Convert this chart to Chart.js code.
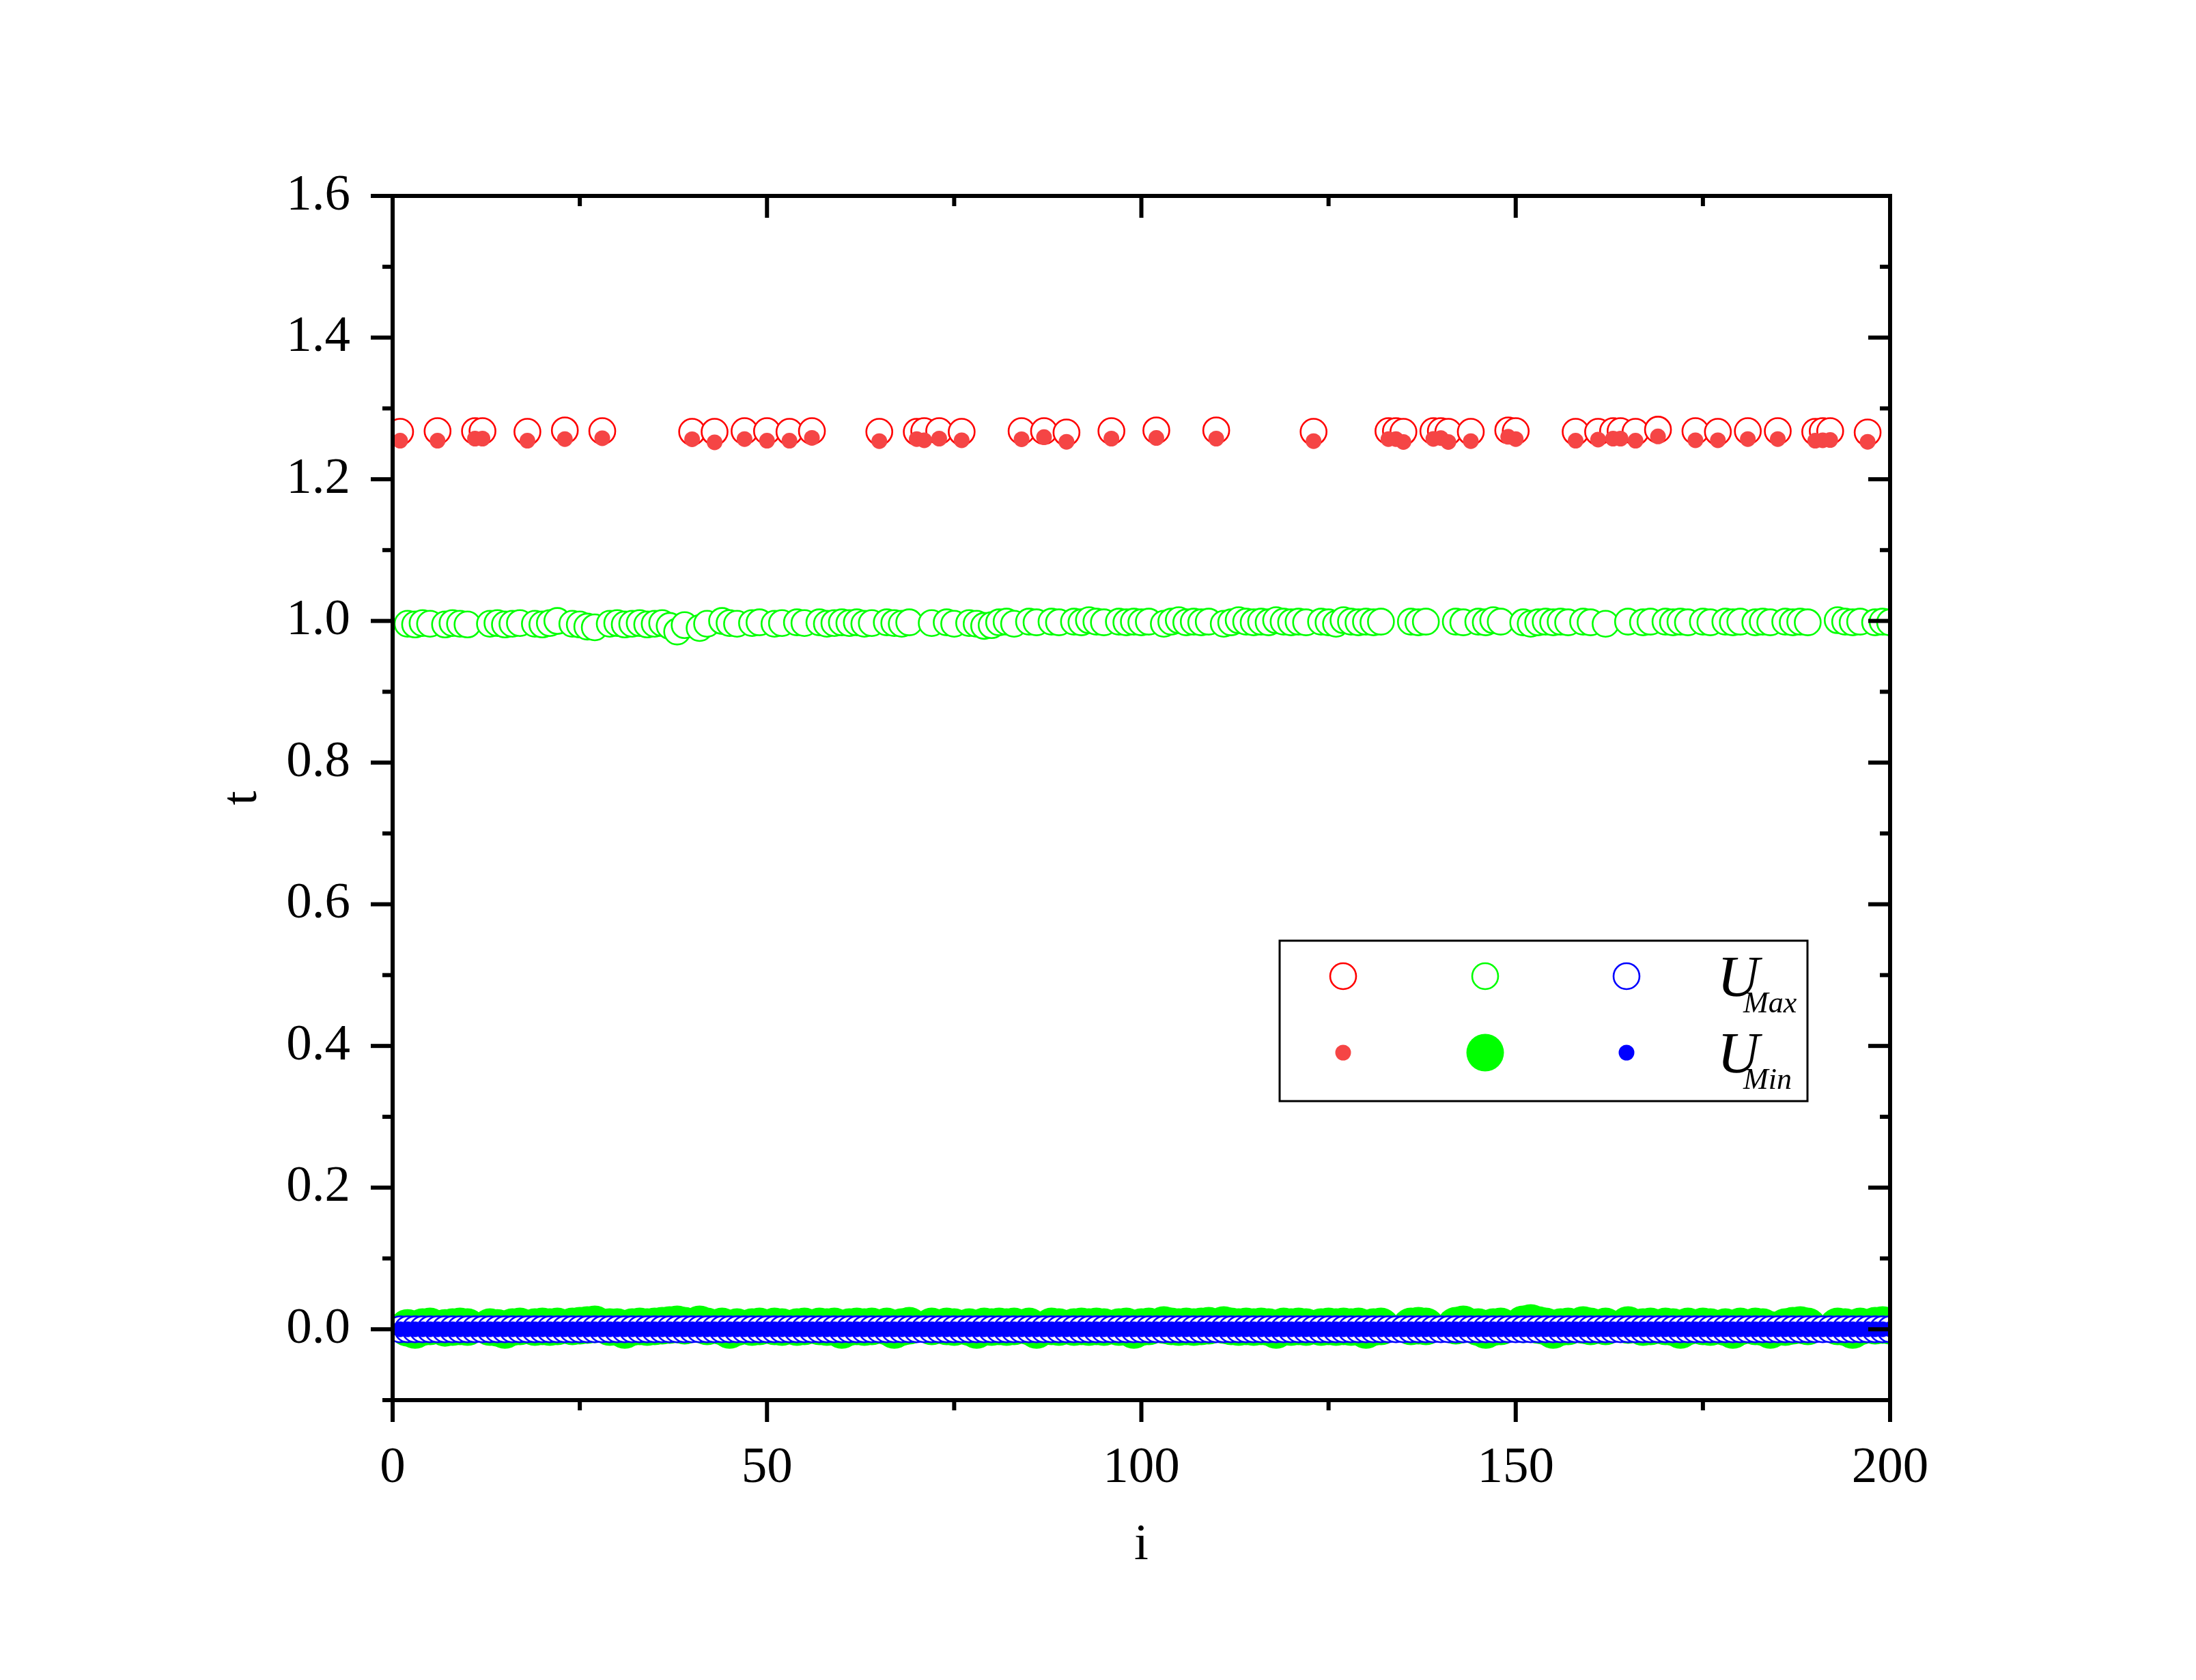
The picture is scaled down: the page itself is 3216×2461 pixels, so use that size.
<!DOCTYPE html>
<html>
<head>
<meta charset="utf-8">
<script src="https://cdn.jsdelivr.net/npm/chart.js@4.4.1/dist/chart.umd.min.js"></script>
<style>
  html, body { margin: 0; padding: 0; background: #fff; }
  canvas { display: block; }
</style>
</head>
<body>
<canvas id="chart" width="3216" height="2461"></canvas>
<script>
// indices where the red class sits
const redI = [1, 6, 11, 12, 18, 23, 28, 40, 43, 47, 50, 53, 56, 65, 70, 71, 73, 76, 84, 87,
  90, 96, 102, 110, 123, 133, 134, 135, 139, 140, 141, 144, 149, 150, 158, 161, 163, 164, 166, 169,
  174, 177, 181, 185, 190, 191, 192, 197];
const redMax = [1.267, 1.268, 1.268, 1.268, 1.267, 1.269, 1.268, 1.267, 1.267, 1.268, 1.268, 1.267, 1.268, 1.267, 1.267, 1.268, 1.268, 1.267, 1.268, 1.268,
  1.266, 1.268, 1.269, 1.269, 1.267, 1.268, 1.268, 1.267, 1.268, 1.268, 1.267, 1.267, 1.269, 1.268, 1.267, 1.267, 1.268, 1.268, 1.267, 1.270,
  1.268, 1.267, 1.268, 1.268, 1.267, 1.268, 1.268, 1.266];
const redMin = [1.2545, 1.2545, 1.2574, 1.2574, 1.2545, 1.2567, 1.2579, 1.2565, 1.2522, 1.2567, 1.2545, 1.2545, 1.2584, 1.2539, 1.2567, 1.2551, 1.2574, 1.2551, 1.2565, 1.2595,
  1.2529, 1.2574, 1.2583, 1.2574, 1.2539, 1.2567, 1.2567, 1.2526, 1.2570, 1.2582, 1.2526, 1.2539, 1.2600, 1.2567, 1.2545, 1.2560, 1.2574, 1.2574, 1.2545, 1.2605,
  1.2551, 1.2551, 1.2567, 1.2567, 1.2545, 1.2551, 1.2554, 1.2529];

// i = 1..200, null where the point belongs to the red class
const greenMax = [
  null, 0.996, 0.995, 0.997, 0.996, null, 0.995, 0.997, 0.996, 0.995,
  null, null, 0.996, 0.997, 0.995, 0.996, 0.997, null, 0.996, 0.995,
  0.997, 1.000, null, 0.996, 0.995, 0.992, 0.991, null, 0.996, 0.997,
  0.995, 0.996, 0.997, 0.995, 0.996, 0.997, 0.993, 0.985, 0.994, null,
  0.990, 0.996, null, 1.000, 0.997, 0.996, null, 0.997, 0.998, null,
  0.996, 0.997, null, 0.998, 0.997, null, 0.998, 0.996, 0.997, 0.998,
  0.997, 0.998, 0.996, 0.997, null, 0.998, 0.997, 0.996, 0.998, null,
  null, 0.997, null, 0.998, 0.996, null, 0.997, 0.996, 0.993, 0.994,
  0.998, 0.999, 0.996, null, 0.999, 0.998, null, 0.999, 0.998, null,
  0.999, 0.998, 1.001, 0.999, 0.998, null, 0.999, 0.998, 0.999, 0.998,
  0.999, null, 0.996, 0.999, 1.001, 0.998, 0.999, 0.998, 0.999, null,
  0.996, 0.998, 1.001, 0.999, 0.998, 0.999, 0.998, 1.001, 0.999, 0.998,
  0.999, 0.998, null, 0.999, 0.998, 0.996, 1.001, 0.999, 0.998, 0.999,
  0.998, 0.999, null, null, null, 0.999, 0.998, 0.999, null, null,
  null, 0.999, 0.998, null, 0.999, 0.998, 1.001, 0.999, null, null,
  0.998, 0.996, 0.998, 0.999, 0.998, 0.999, 0.998, null, 0.999, 0.998,
  null, 0.996, null, null, 0.999, null, 0.998, 0.999, null, 0.999,
  0.998, 0.999, 0.998, null, 0.999, 0.998, null, 0.999, 0.998, 0.999,
  null, 0.998, 0.999, 0.998, null, 0.999, 0.998, 0.999, 0.998, null,
  null, null, 1.001, 0.999, 0.998, 0.999, null, 0.998, 0.999, 0.998
];
const greenMin = [
  null, 0.002, -0.001, 0.003, 0.004, null, 0.002, 0.003, 0.004, 0.003,
  null, null, 0.003, 0.002, -0.001, 0.003, 0.004, null, 0.003, 0.004,
  0.003, 0.004, null, 0.004, 0.005, 0.006, 0.007, null, 0.003, 0.003,
  -0.001, 0.003, 0.004, 0.003, 0.004, 0.005, 0.006, 0.007, 0.005, null,
  0.007, 0.004, null, 0.004, -0.001, 0.003, null, 0.003, 0.004, null,
  0.004, 0.003, null, 0.003, 0.004, null, 0.004, 0.003, 0.004, -0.001,
  0.003, 0.004, 0.003, 0.004, null, 0.004, -0.001, 0.003, 0.005, null,
  null, 0.004, null, 0.004, 0.003, null, 0.003, -0.001, 0.004, 0.003,
  0.004, 0.003, 0.004, null, 0.004, -0.001, null, 0.004, 0.003, null,
  0.003, 0.004, 0.003, 0.004, 0.003, null, 0.003, 0.004, -0.001, 0.003,
  0.004, null, 0.006, 0.004, 0.003, 0.004, 0.003, 0.004, 0.005, null,
  0.006, 0.004, 0.003, 0.004, 0.003, 0.004, 0.003, -0.001, 0.004, 0.003,
  0.004, 0.003, null, 0.003, 0.004, 0.003, 0.004, 0.003, 0.004, -0.001,
  0.003, 0.004, null, null, null, 0.004, 0.005, 0.004, null, null,
  null, 0.005, 0.007, null, 0.003, -0.001, 0.003, 0.004, null, null,
  0.007, 0.009, 0.006, 0.004, -0.001, 0.003, 0.004, null, 0.006, 0.004,
  null, 0.004, null, null, 0.006, null, 0.003, 0.004, null, 0.004,
  0.003, -0.001, 0.004, null, 0.004, 0.003, null, 0.003, -0.001, 0.004,
  null, 0.004, 0.003, -0.001, null, 0.003, 0.005, 0.006, 0.004, null,
  null, null, 0.004, 0.003, -0.001, 0.004, null, 0.005, 0.006, 0.005
];
const blueMax = [
  0, 0, 0, 0, 0, 0, 0, 0, 0, 0, 0, 0, 0, 0, 0, 0, 0, 0, 0, 0,
  0, 0, 0, 0, 0, 0, 0, 0, 0, 0, 0, 0, 0, 0, 0, 0, 0, 0, 0, 0,
  0, 0, 0, 0, 0, 0, 0, 0, 0, 0, 0, 0, 0, 0, 0, 0, 0, 0, 0, 0,
  0, 0, 0, 0, 0, 0, 0, 0, 0, 0, 0, 0, 0, 0, 0, 0, 0, 0, 0, 0,
  0, 0, 0, 0, 0, 0, 0, 0, 0, 0, 0, 0, 0, 0, 0, 0, 0, 0, 0, 0,
  0, 0, 0, 0, 0, 0, 0, 0, 0, 0, 0, 0, 0, 0, 0, 0, 0, 0, 0, 0,
  0, 0, 0, 0, 0, 0, 0, 0, 0, 0, 0, 0, 0, 0, 0, 0, 0, 0, 0, 0,
  0, 0, 0, 0, 0, 0, 0, 0, 0, 0, 0, 0, 0, 0, 0, 0, 0, 0, 0, 0,
  0, 0, 0, 0, 0, 0, 0, 0, 0, 0, 0, 0, 0, 0, 0, 0, 0, 0, 0, 0,
  0, 0, 0, 0, 0, 0, 0, 0, 0, 0, 0, 0, 0, 0, 0, 0, 0, 0, 0, 0
];
const blueMin = [
  0, 0, 0, 0, 0, 0, 0, 0, 0, 0, 0, 0, 0, 0, 0, 0, 0, 0, 0, 0,
  0, 0, 0, 0, 0, 0, 0, 0, 0, 0, 0, 0, 0, 0, 0, 0, 0, 0, 0, 0,
  0, 0, 0, 0, 0, 0, 0, 0, 0, 0, 0, 0, 0, 0, 0, 0, 0, 0, 0, 0,
  0, 0, 0, 0, 0, 0, 0, 0, 0, 0, 0, 0, 0, 0, 0, 0, 0, 0, 0, 0,
  0, 0, 0, 0, 0, 0, 0, 0, 0, 0, 0, 0, 0, 0, 0, 0, 0, 0, 0, 0,
  0, 0, 0, 0, 0, 0, 0, 0, 0, 0, 0, 0, 0, 0, 0, 0, 0, 0, 0, 0,
  0, 0, 0, 0, 0, 0, 0, 0, 0, 0, 0, 0, 0, 0, 0, 0, 0, 0, 0, 0,
  0, 0, 0, 0, 0, 0, 0, 0, 0, 0, 0, 0, 0, 0, 0, 0, 0, 0, 0, 0,
  0, 0, 0, 0, 0, 0, 0, 0, 0, 0, 0, 0, 0, 0, 0, 0, 0, 0, 0, 0,
  0, 0, 0, 0, 0, 0, 0, 0, 0, 0, 0, 0, 0, 0, 0, 0, 0, 0, 0, 0
];

const xMin = 0, xMax = 200, xStep = 25, xMajor = 50;
const yMin = -0.1, yMax = 1.6, yStep = 0.1;
const xTitle = 'i', yTitle = 't';
const legendRows = [['U', 'Max'], ['U', 'Min']];

// index axis i = 1..200
const iAll = [];
for (let i = 1; i <= 200; i++) iAll.push(i);

function toPoints(xs, ys) {
  const pts = [];
  xs.forEach((x, k) => { if (ys[k] !== null) pts.push({ x: x, y: ys[k] }); });
  return pts;
}

const RED = '#FF0000', RED_FILL = '#F54545', GREEN = '#00FF00', BLUE = '#0000FF';
const SERIF = '"Liberation Serif", "Times New Roman", serif';

function openSet(label, pts, color, order) {
  return {
    label: label, data: pts, order: order, clip: 0,
    pointStyle: 'circle', pointRadius: 19, pointBorderWidth: 2.6,
    pointBackgroundColor: '#FFFFFF', pointBorderColor: color
  };
}
function fillSet(label, pts, color, r, order) {
  return {
    label: label, data: pts, order: order, clip: 0,
    pointStyle: 'circle', pointRadius: r, pointBorderWidth: 0,
    pointBackgroundColor: color, pointBorderColor: color
  };
}

const datasets = [
  openSet('red UMax', toPoints(redI, redMax), RED, 3),
  openSet('green UMax', toPoints(iAll, greenMax), GREEN, 1),
  openSet('blue UMax', toPoints(iAll, blueMax), BLUE, 5),
  fillSet('red UMin', toPoints(redI, redMin), RED_FILL, 11.5, 2),
  fillSet('green UMin', toPoints(iAll, greenMin), GREEN, 27.5, 6),
  fillSet('blue UMin', toPoints(iAll, blueMin), BLUE, 11.5, 4)
];

// frame + ticks: outward on left/bottom, mirrored inward on top/right
const frameTicks = {
  id: 'frameTicks',
  afterDatasetsDraw(chart) {
    const ctx = chart.ctx, ca = chart.chartArea;
    const xs = chart.scales.x, ys = chart.scales.y;
    ctx.save();
    ctx.strokeStyle = '#000';
    ctx.lineWidth = 6;
    ctx.lineCap = 'butt';
    const line = (x1, y1, x2, y2) => { ctx.beginPath(); ctx.moveTo(x1, y1); ctx.lineTo(x2, y2); ctx.stroke(); };
    ys.ticks.forEach(t => {
      const py = ys.getPixelForValue(t.value);
      const len = Math.round(t.value * 10) % 2 === 0 ? 32 : 15;
      line(ca.left - len, py, ca.left, py);
      line(ca.right, py, ca.right - len, py);
    });
    xs.ticks.forEach(t => {
      const px = xs.getPixelForValue(t.value);
      const len = t.value % xMajor === 0 ? 32 : 15;
      line(px, ca.bottom, px, ca.bottom + len);
      line(px, ca.top, px, ca.top + len);
    });
    ctx.strokeRect(ca.left, ca.top, ca.right - ca.left, ca.bottom - ca.top);
    ctx.restore();
  }
};

// the 3 x 2 marker legend with U_Max / U_Min
const markerLegend = {
  id: 'markerLegend',
  afterDraw(chart) {
    const ctx = chart.ctx, ca = chart.chartArea;
    const bx = ca.left + 1299, by = ca.top + 1091, bw = 773, bh = 235;
    ctx.save();
    ctx.fillStyle = '#fff';
    ctx.fillRect(bx, by, bw, bh);
    ctx.strokeStyle = '#000';
    ctx.lineWidth = 3;
    ctx.strokeRect(bx, by, bw, bh);
    const colX = [93, 301, 508];
    const rowY = [52, 164];
    chart.data.datasets.forEach((ds, k) => {
      const row = Math.floor(k / 3), col = k % 3;
      ctx.fillStyle = ds.pointBackgroundColor;
      ctx.strokeStyle = ds.pointBorderColor;
      ctx.lineWidth = ds.pointBorderWidth;
      Chart.helpers.drawPoint(ctx, {
        pointStyle: 'circle', radius: ds.pointRadius, borderWidth: ds.pointBorderWidth, rotation: 0
      }, bx + colX[col], by + rowY[row]);
    });
    ctx.fillStyle = '#000';
    ctx.textAlign = 'left';
    ctx.textBaseline = 'alphabetic';
    legendRows.forEach((r, k) => {
      const base = by + 81 + k * 112;
      ctx.font = 'italic 85px ' + SERIF;
      ctx.fillText(r[0], bx + 641, base);
      ctx.font = 'italic 44px ' + SERIF;
      ctx.fillText(r[1], bx + 679, base + 24);
    });
    ctx.restore();
  }
};

new Chart(document.getElementById('chart'), {
  type: 'scatter',
  data: { datasets: datasets },
  plugins: [frameTicks, markerLegend],
  options: {
    responsive: false,
    animation: false,
    devicePixelRatio: 1,
    layout: { padding: { left: 300, top: 287, right: 448, bottom: 142 } },
    plugins: { legend: { display: false }, tooltip: { enabled: false } },
    scales: {
      x: {
        type: 'linear', min: xMin, max: xMax,
        grid: { display: false, drawTicks: false },
        border: { display: false },
        afterFit: s => { s.height = 268; },
        ticks: {
          stepSize: xStep, autoSkip: false, maxRotation: 0, padding: 55,
          color: '#000', font: { family: SERIF, size: 75 },
          callback: v => (v % xMajor === 0 ? String(v) : '')
        },
        title: {
          display: true, text: xTitle, color: '#000',
          font: { family: SERIF, size: 75 }, padding: { top: 10, bottom: 10 }
        }
      },
      y: {
        type: 'linear', min: yMin, max: yMax,
        grid: { display: false, drawTicks: false },
        border: { display: false },
        afterFit: s => { s.width = 275; },
        ticks: {
          stepSize: yStep, autoSkip: false, padding: 62,
          color: '#000', font: { family: SERIF, size: 75 },
          callback: v => (Math.round(v * 10) % 2 === 0 ? v.toFixed(1) : '')
        },
        title: {
          display: true, text: yTitle, color: '#000',
          font: { family: SERIF, size: 75 }, padding: { top: 10, bottom: 0 }
        }
      }
    }
  }
});
</script>
</body>
</html>
